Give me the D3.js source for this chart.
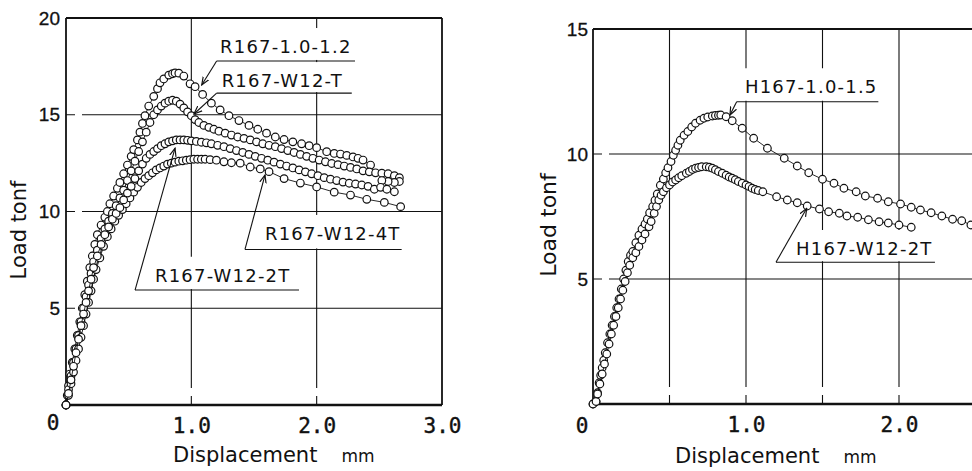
<!DOCTYPE html>
<html><head><meta charset="utf-8">
<script src="https://cdn.jsdelivr.net/npm/d3@7"></script>
<style>body{margin:0;background:#fff}svg{display:block}</style>
</head><body>
<svg id="c" width="972" height="471"></svg>
<script>
// ---------------- DATA ----------------
const leftNames = ["R167-1.0-1.2", "R167-W12-T", "R167-W12-4T", "R167-W12-2T"];
const rightNames = ["H167-1.0-1.5", "H167-W12-2T"];

const leftYTickValues = [5, 10, 15, 20];
const leftXTickValues = [1, 2, 3];
const rightYTickValues = [5, 10, 15];
const rightXTickValues = [1, 2];
const leftGridX = [1, 2];
const leftGridY = [5, 10, 15];
const rightGridX = [0.5, 1, 1.5, 2];
const rightGridY = [5, 10];

// [displacement mm, load tonf]
const r167_10_12 = [[0,0],[0.01,0.5],[0.02,1.0],[0.03,1.6],[0.05,2.2],[0.07,2.9],[0.09,3.6],[0.11,4.3],[0.13,5.0],[0.15,5.7],[0.17,6.4],[0.19,7.1],[0.21,7.7],[0.23,8.3],[0.25,8.8],[0.28,9.3],[0.31,9.7],[0.33,10.0],[0.35,10.4],[0.38,10.8],[0.41,11.2],[0.43,11.5],[0.46,11.95],[0.49,12.4],[0.52,12.85],[0.54,13.2],[0.57,13.7],[0.59,14.1],[0.61,14.55],[0.63,14.95],[0.66,15.45],[0.70,15.95],[0.73,16.35],[0.75,16.65],[0.78,16.85],[0.82,17.05],[0.85,17.12],[0.87,17.16],[0.90,17.15],[0.94,17.0],[0.99,16.6],[1.03,16.45],[1.09,16.05],[1.16,15.6],[1.23,15.25],[1.30,14.95],[1.38,14.7],[1.46,14.45],[1.53,14.25],[1.60,14.05],[1.67,13.85],[1.74,13.72],[1.81,13.6],[1.88,13.5],[1.94,13.4],[2.00,13.3],[2.08,13.09],[2.14,13.0],[2.19,12.97],[2.24,12.9],[2.29,12.82],[2.33,12.75],[2.37,12.66],[2.43,12.4]];

const r167_w12_t = [[0,0],[0.02,0.8],[0.04,1.5],[0.06,2.2],[0.08,2.9],[0.10,3.6],[0.12,4.3],[0.14,5.0],[0.16,5.6],[0.18,6.2],[0.20,6.8],[0.22,7.4],[0.25,8.0],[0.28,8.6],[0.31,9.1],[0.34,9.5],[0.37,9.9],[0.40,10.3],[0.43,10.7],[0.46,11.1],[0.49,11.6],[0.52,12.1],[0.55,12.6],[0.58,13.1],[0.61,13.6],[0.64,14.1],[0.67,14.6],[0.70,15.0],[0.73,15.25],[0.76,15.45],[0.79,15.6],[0.82,15.7],[0.85,15.75],[0.88,15.7],[0.91,15.55],[0.94,15.35],[0.97,15.15],[1.00,14.95],[1.03,14.75],[1.06,14.6],[1.10,14.45],[1.14,14.35],[1.18,14.25],[1.22,14.15],[1.27,14.05],[1.32,13.95],[1.37,13.85],[1.42,13.78],[1.47,13.7],[1.52,13.6],[1.57,13.5],[1.62,13.42],[1.67,13.35],[1.72,13.25],[1.77,13.15],[1.82,13.05],[1.87,12.95],[1.92,12.85],[1.97,12.75],[2.02,12.66],[2.07,12.57],[2.12,12.48],[2.17,12.42],[2.22,12.35],[2.27,12.28],[2.32,12.2],[2.37,12.1],[2.42,12.05],[2.47,12.0],[2.52,11.98],[2.57,11.95],[2.62,11.85],[2.66,11.75],[2.66,11.55],[2.62,11.5],[2.57,11.55],[2.52,11.6]];

const r167_w12_4t = [[0,0],[0.02,0.5],[0.04,1.1],[0.06,1.7],[0.08,2.3],[0.10,2.9],[0.12,3.5],[0.14,4.1],[0.16,4.7],[0.18,5.3],[0.20,5.9],[0.22,6.5],[0.24,7.0],[0.27,7.6],[0.30,8.2],[0.33,8.7],[0.36,9.1],[0.39,9.5],[0.42,9.8],[0.45,10.1],[0.48,10.4],[0.51,10.7],[0.54,11.0],[0.57,11.25],[0.60,11.5],[0.63,11.7],[0.66,11.85],[0.69,12.0],[0.72,12.15],[0.75,12.25],[0.78,12.35],[0.81,12.45],[0.84,12.5],[0.87,12.55],[0.90,12.6],[0.93,12.62],[0.96,12.65],[0.99,12.68],[1.02,12.7],[1.05,12.7],[1.08,12.7],[1.11,12.7],[1.15,12.68],[1.20,12.65],[1.26,12.57],[1.32,12.52],[1.39,12.5],[1.47,12.3],[1.55,12.2],[1.62,12.06],[1.74,11.7],[1.87,11.47],[2.00,11.27],[2.14,11.0],[2.27,10.85],[2.40,10.63],[2.54,10.47],[2.67,10.25]];

const r167_w12_2t = [[0,0],[0.02,0.6],[0.04,1.3],[0.06,2.0],[0.08,2.7],[0.10,3.4],[0.12,4.1],[0.14,4.7],[0.16,5.3],[0.18,5.9],[0.20,6.5],[0.22,7.1],[0.25,7.7],[0.28,8.3],[0.31,8.8],[0.34,9.2],[0.37,9.6],[0.40,9.9],[0.43,10.2],[0.46,10.6],[0.49,10.95],[0.52,11.3],[0.55,11.7],[0.58,12.1],[0.61,12.45],[0.64,12.75],[0.67,12.95],[0.70,13.1],[0.73,13.25],[0.76,13.4],[0.79,13.5],[0.82,13.6],[0.85,13.65],[0.88,13.7],[0.91,13.7],[0.94,13.7],[0.97,13.68],[1.00,13.65],[1.04,13.62],[1.08,13.58],[1.12,13.55],[1.16,13.5],[1.21,13.42],[1.26,13.35],[1.31,13.25],[1.36,13.15],[1.41,13.05],[1.46,12.95],[1.51,12.85],[1.56,12.75],[1.61,12.65],[1.66,12.55],[1.71,12.45],[1.76,12.35],[1.81,12.25],[1.86,12.15],[1.91,12.05],[1.96,11.95],[2.01,11.85],[2.06,11.75],[2.11,11.67],[2.16,11.6],[2.21,11.52],[2.26,11.46],[2.31,11.42],[2.36,11.37],[2.41,11.3],[2.46,11.15],[2.51,11.25],[2.56,11.15],[2.62,11.02]];

const h167_10_15 = [[0,0],[0.02,0.1],[0.03,0.45],[0.04,0.85],[0.05,1.15],[0.06,1.45],[0.07,1.75],[0.08,2.05],[0.095,2.45],[0.11,2.8],[0.125,3.15],[0.14,3.5],[0.155,3.85],[0.17,4.2],[0.185,4.6],[0.2,5.0],[0.215,5.35],[0.23,5.7],[0.245,5.95],[0.26,6.1],[0.28,6.45],[0.30,6.75],[0.32,7.0],[0.34,7.2],[0.355,7.4],[0.37,7.65],[0.39,7.9],[0.405,8.15],[0.42,8.4],[0.44,8.75],[0.46,9.0],[0.475,9.25],[0.49,9.45],[0.51,9.7],[0.525,9.95],[0.54,10.15],[0.555,10.35],[0.57,10.55],[0.595,10.75],[0.62,10.9],[0.645,11.08],[0.67,11.23],[0.70,11.35],[0.725,11.43],[0.75,11.48],[0.78,11.52],[0.80,11.54],[0.82,11.55],[0.835,11.56],[0.87,11.49],[0.91,11.33],[0.975,11.03],[1.05,10.63],[1.14,10.23],[1.25,9.83],[1.335,9.52],[1.41,9.25],[1.5,8.99],[1.575,8.83],[1.64,8.63],[1.72,8.49],[1.78,8.32],[1.86,8.23],[1.93,8.09],[2.01,8.0],[2.08,7.87],[2.14,7.76],[2.21,7.65],[2.28,7.52],[2.35,7.39],[2.41,7.33],[2.47,7.16],[2.54,7.0]];

const h167_w12_2t = [[0,0],[0.02,0.1],[0.03,0.4],[0.045,0.8],[0.06,1.2],[0.075,1.6],[0.09,2.0],[0.105,2.4],[0.12,2.8],[0.135,3.15],[0.15,3.5],[0.165,3.85],[0.18,4.2],[0.195,4.55],[0.21,4.9],[0.225,5.25],[0.24,5.55],[0.26,5.85],[0.28,6.05],[0.30,6.3],[0.32,6.56],[0.34,6.8],[0.366,7.09],[0.38,7.3],[0.40,7.63],[0.415,7.9],[0.43,8.16],[0.445,8.35],[0.46,8.49],[0.48,8.65],[0.50,8.76],[0.52,8.88],[0.54,8.96],[0.56,9.05],[0.58,9.13],[0.61,9.23],[0.63,9.3],[0.65,9.38],[0.67,9.43],[0.69,9.46],[0.71,9.49],[0.74,9.49],[0.76,9.47],[0.78,9.43],[0.80,9.37],[0.82,9.3],[0.845,9.23],[0.87,9.15],[0.89,9.08],[0.91,9.03],[0.93,8.97],[0.95,8.9],[0.975,8.83],[1.00,8.76],[1.02,8.7],[1.04,8.63],[1.06,8.58],[1.08,8.54],[1.11,8.49],[1.2,8.29],[1.27,8.16],[1.335,8.05],[1.4,7.92],[1.48,7.8],[1.54,7.69],[1.61,7.63],[1.66,7.52],[1.73,7.47],[1.80,7.37],[1.87,7.29],[1.93,7.24],[2.0,7.16],[2.08,7.07]];

const leftSeries = [r167_10_12, r167_w12_t, r167_w12_4t, r167_w12_2t];
const rightSeries = [h167_10_15, h167_w12_2t];

// ---------------- DRAW ----------------
const svg = d3.select("#c");
const INK = "#111";
svg.append("defs").append("marker")
  .attr("id","arr").attr("viewBox","0 -5 10 10").attr("refX",9).attr("refY",0)
  .attr("markerWidth",9).attr("markerHeight",9).attr("markerUnits","userSpaceOnUse")
  .attr("orient","auto")
  .append("path").attr("d","M0,-3.6L9,0L0,3.6").attr("fill","none").attr("stroke",INK).attr("stroke-width",1.3);

const xL = d3.scaleLinear().domain([0,3]).range([66,442]);
const yL = d3.scaleLinear().domain([0,20]).range([405,18]);
const xR = d3.scaleLinear().domain([0,2.5]).range([593,975.5]);
const yR = d3.scaleLinear().domain([0,15]).range([404,29]);

function panel(o){
  const g = svg.append("g");
  const [x0,x1] = o.x.range(), [y0,y1] = o.y.range();
  const xRight = Math.min(x1, 972);
  // grid
  o.gridY.forEach(v => g.append("line")
    .attr("x1",x0).attr("x2",xRight).attr("y1",o.y(v)).attr("y2",o.y(v))
    .attr("stroke",INK).attr("stroke-width",1.1).attr("stroke-dasharray","9,7,3000"));
  o.gridX.forEach(v => g.append("line")
    .attr("x1",o.x(v)).attr("x2",o.x(v)).attr("y1",y0).attr("y2",y1)
    .attr("stroke",INK).attr("stroke-width",1.1).attr("stroke-dasharray","9,8,3000"));
  // frame
  g.append("line").attr("x1",x0).attr("x2",xRight).attr("y1",y1).attr("y2",y1).attr("stroke",INK).attr("stroke-width",1.8);
  g.append("line").attr("x1",x0).attr("x2",x0).attr("y1",y0).attr("y2",y1).attr("stroke",INK).attr("stroke-width",1.8);
  if (x1 <= 972) g.append("line").attr("x1",x1).attr("x2",x1).attr("y1",y0).attr("y2",y1).attr("stroke",INK).attr("stroke-width",1.8);
  g.append("line").attr("x1",x0-1).attr("x2",xRight).attr("y1",y0).attr("y2",y0).attr("stroke",INK).attr("stroke-width",2.6);

  // axes (labels only)
  const ay = g.append("g").attr("transform",`translate(${x0},0)`)
    .call(d3.axisLeft(o.y).tickValues(o.yTicks).tickSize(0).tickPadding(o.yPad).tickFormat(d3.format("d")));
  ay.select(".domain").remove();
  ay.selectAll("text").attr("font-family","Liberation Sans, Arial, sans-serif").attr("font-size",19)
    .attr("fill",INK).attr("stroke",INK).attr("stroke-width",0.3);
  const ax = g.append("g").attr("transform",`translate(0,${y0})`)
    .call(d3.axisBottom(o.x).tickValues(o.xTicks).tickSize(0).tickPadding(13).tickFormat(d3.format(".1f")));
  ax.select(".domain").remove();
  ax.selectAll("text").attr("font-family","DejaVu Sans Mono, monospace").attr("font-size",21)
    .attr("fill",INK).attr("stroke",INK).attr("stroke-width",0.4);
  g.append("text").attr("x",x0 - o.zeroDx).attr("y",y0 + o.zeroDy).attr("text-anchor","middle")
    .attr("font-family","DejaVu Sans Mono, monospace").attr("font-size",21)
    .attr("fill",INK).attr("stroke",INK).attr("stroke-width",0.4).text("0");

  // axis titles
  const tx = g.append("text").attr("x",o.titleX).attr("y",o.titleY)
    .attr("font-family","DejaVu Sans, sans-serif").attr("font-size",21).attr("fill",INK);
  tx.append("tspan").text("Displacement");
  tx.append("tspan").attr("dx",24).attr("font-size",17).text("mm");
  g.append("text").attr("transform",`translate(${o.yTitleX},${o.yTitleY}) rotate(-90)`)
    .attr("text-anchor","middle").attr("font-family","DejaVu Sans, sans-serif").attr("font-size",o.yTitleSize).attr("fill",INK)
    .text("Load tonf");

  // annotation boxes + texts
  const boxG = g.append("g"), txtG = g.append("g");
  o.ann.forEach(a => {
    const t = txtG.append("text").attr("x",o.x(a.tx)).attr("y",o.y(a.ty))
      .attr("font-family","DejaVu Sans, sans-serif").attr("font-size",18).attr("letter-spacing",1.2)
      .attr("fill",INK).text(a.name);
    const b = t.node().getBBox();
    const top = b.y - 8, bottom = o.y(a.uy) - 1;
    boxG.append("rect").attr("x",b.x-4).attr("y",top).attr("width",b.width+8).attr("height",bottom-top).attr("fill","#fff");
  });

  // curves
  const line = d3.line().x(d=>o.x(d[0])).y(d=>o.y(d[1]));
  o.series.forEach(s => {
    g.append("path").attr("d",line(s)).attr("fill","none").attr("stroke",INK).attr("stroke-width",0.9);
    g.append("g").selectAll("circle").data(s).join("circle")
      .attr("cx",d=>o.x(d[0])).attr("cy",d=>o.y(d[1])).attr("r",3.8)
      .attr("fill","#fff").attr("stroke",INK).attr("stroke-width",1.2);
  });

  // underline + leader arrows
  o.ann.forEach(a => {
    g.append("line").attr("x1",o.x(a.ux0)).attr("x2",o.x(a.ux1)).attr("y1",o.y(a.uy)).attr("y2",o.y(a.uy))
      .attr("stroke",INK).attr("stroke-width",1.1);
    g.append("line").attr("x1",o.x(a.ux0)).attr("y1",o.y(a.uy)).attr("x2",o.x(a.px)).attr("y2",o.y(a.py))
      .attr("stroke",INK).attr("stroke-width",1.1).attr("marker-end","url(#arr)");
  });
}

panel({
  x:xL, y:yL, gridX:leftGridX, gridY:leftGridY, xTicks:leftXTickValues, yTicks:leftYTickValues, yPad:6,
  zeroDx:13, zeroDy:25, titleX:173, titleY:462, yTitleX:26, yTitleY:230, yTitleSize:21,
  series:leftSeries,
  ann:[
    {name:leftNames[0], tx:1.229, ty:18.19, uy:17.78, ux0:1.202, ux1:2.306, px:1.083, py:16.54},
    {name:leftNames[1], tx:1.242, ty:16.43, uy:16.12, ux0:1.202, ux1:2.28, px:1.021, py:15.04},
    {name:leftNames[2], tx:1.588, ty:8.53, uy:8.04, ux0:1.428, ux1:2.678, px:1.588, py:11.89},
    {name:leftNames[3], tx:0.71, ty:6.37, uy:5.94, ux0:0.551, ux1:1.859, px:0.87, py:13.27}
  ]
});

panel({
  x:xR, y:yR, gridX:rightGridX, gridY:rightGridY, xTicks:rightXTickValues, yTicks:rightYTickValues, yPad:5,
  zeroDx:11, zeroDy:29, titleX:675, titleY:463, yTitleX:556, yTitleY:225, yTitleSize:22,
  series:rightSeries,
  ann:[
    {name:rightNames[0], tx:0.993, ty:12.43, uy:12.09, ux0:0.939, ux1:1.865, px:0.895, py:11.56},
    {name:rightNames[1], tx:1.327, ty:5.96, uy:5.67, ux0:1.196, ux1:2.235, px:1.397, py:7.83}
  ]
});
</script>
</body></html>
